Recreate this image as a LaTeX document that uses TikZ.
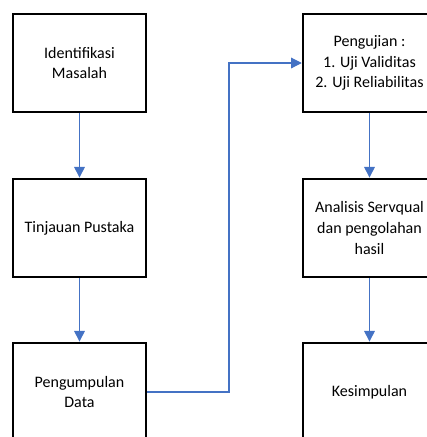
\documentclass[tikz,border=0pt]{standalone}
\usepackage{fontspec}
\setmainfont{Carlito}
\usetikzlibrary{arrows.meta}

\definecolor{flowblue}{RGB}{68,114,196}
\tikzstyle{step box} = [rectangle, draw=black, line width=1.6pt, fill=white, text=black, align=center, minimum width=100pt, minimum height=74pt, inner sep=2pt, font=\fontsize{12}{15.5}\selectfont]
\tikzstyle{flow} = [draw=flowblue, line width=0.8pt, -{Triangle[length=8pt,width=8pt]}]

\begin{document}
\begin{tikzpicture}[x=0.75pt, y=-0.75pt]
    \useasboundingbox (0,0) rectangle (427,437);
    \clip (0,0) rectangle (427,437);
    % Nodes
    \node[step box] (idm) at (79.5, 63) {Identifikasi\\Masalah};
    \node[step box] (tp) at (79.5, 228) {Tinjauan Pustaka};
    \node[step box] (pd) at (79.5, 392) {Pengumpulan\\Data};
    \node[step box] (uji) at (369.5, 63) {Pengujian :\\1. Uji Validitas\\2. Uji Reliabilitas};
    \node[step box] (as) at (369.5, 228) {Analisis Servqual\\dan pengolahan\\hasil};
    \node[step box] (ks) at (369.5, 392) {Kesimpulan};
    \coordinate (bend) at (229, 228);
    % Edges
    \draw[flow] (idm) -- (tp);
    \draw[flow] (tp) -- (pd);
    \draw[flow] (pd.east) -- (pd.east -| bend) |- (uji.west);
    \draw[flow] (uji) -- (as);
    \draw[flow] (as) -- (ks);
\end{tikzpicture}
\end{document}
